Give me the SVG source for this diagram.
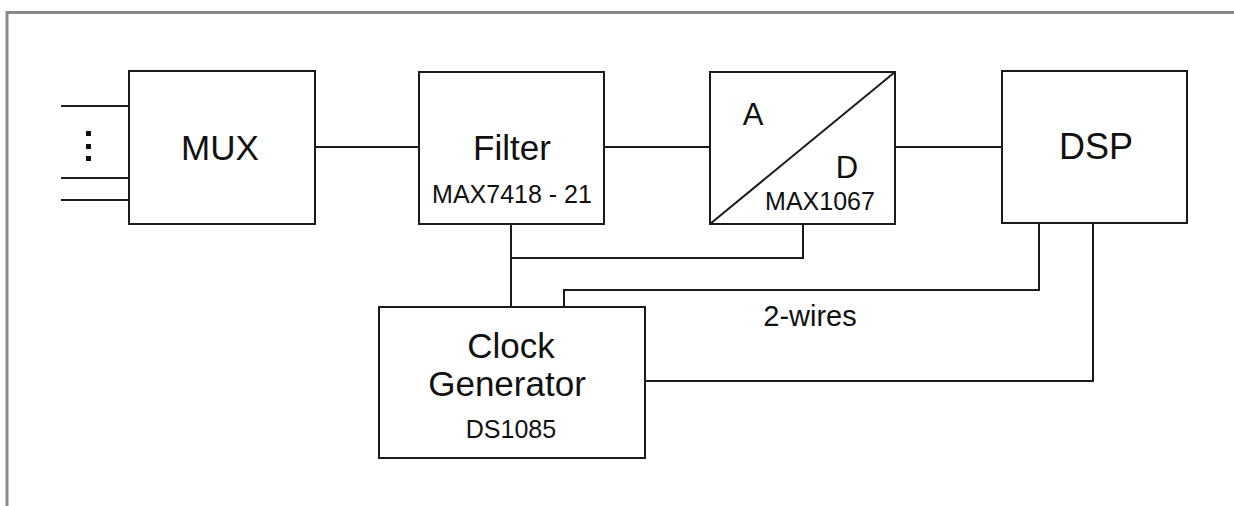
<svg xmlns="http://www.w3.org/2000/svg" width="1234" height="506" viewBox="0 0 1234 506">
<style>
.box{fill:#fff;stroke:#1a1a1a;stroke-width:2}
.wire{fill:none;stroke:#1a1a1a;stroke-width:2}
.t{font-family:"Liberation Sans",Arial,sans-serif;fill:#111;text-anchor:middle}
.big{font-size:35px}
.small{font-size:25px}
</style>
<rect width="1234" height="506" fill="#fff"/>
<g id="frame">
<path d="M7 506 V12.5 H1234" fill="none" stroke="#8a8a8a" stroke-width="3"/>
</g>
<g id="connectors">
<path class="wire" d="M61 106 H129 M61 178 H129 M61 200 H129"/>
<path class="wire" d="M315 147 H419"/>
<path class="wire" d="M604 147 H710"/>
<path class="wire" d="M895 147 H1002"/>
<path class="wire" d="M511 224 V307 M511 258 H803 V224"/>
<path class="wire" d="M564 307 V290 H1039 V223"/>
<path class="wire" d="M645 381 H1093 V223"/>
<text class="t" x="810" y="326" font-size="29">2-wires</text>
</g>
<g id="inputs-dots" fill="#111">
<rect x="86" y="131" width="5" height="5"/>
<rect x="86" y="144" width="5" height="5"/>
<rect x="86" y="156" width="5" height="5"/>
</g>
<g id="mux">
<rect class="box" x="129" y="71" width="186" height="153"/>
<text class="t big" x="220" y="160">MUX</text>
</g>
<g id="filter">
<rect class="box" x="419" y="72" width="185" height="152"/>
<text class="t big" x="512" y="160">Filter</text>
<text class="t small" x="512" y="203">MAX7418 - 21</text>
</g>
<g id="adc">
<rect class="box" x="710" y="72" width="185" height="152"/>
<path class="wire" d="M710 224 L895 72"/>
<text class="t" x="753" y="125" font-size="31">A</text>
<text class="t" x="847" y="178" font-size="31">D</text>
<text class="t small" x="820" y="210">MAX1067</text>
</g>
<g id="dsp">
<rect class="box" x="1002" y="71" width="185" height="152"/>
<text class="t" x="1096" y="159" font-size="36">DSP</text>
</g>
<g id="clock">
<rect class="box" x="379" y="307" width="266" height="151"/>
<text class="t big" x="511" y="358">Clock</text>
<text class="t big" x="507" y="396">Generator</text>
<text class="t small" x="511" y="438">DS1085</text>
</g>
</svg>
